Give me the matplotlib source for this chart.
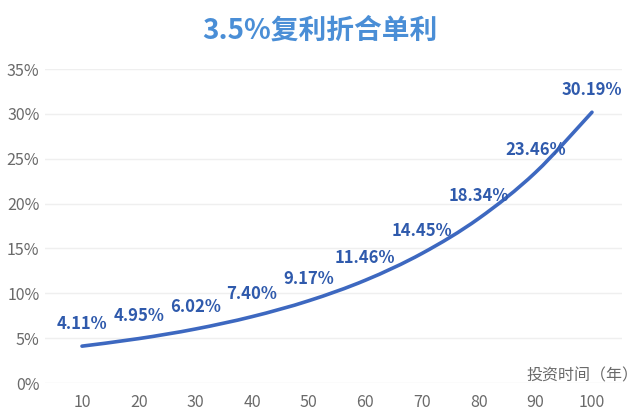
import matplotlib.pyplot as plt
from matplotlib.path import Path
from matplotlib.patches import PathPatch

plt.rcParams['font.family'] = ['Noto Sans CJK SC', 'DejaVu Sans']

# данные
years = [10, 20, 30, 40, 50, 60, 70, 80, 90, 100]
rates = [4.11, 4.95, 6.02, 7.40, 9.17, 11.46, 14.45, 18.34, 23.46, 30.19]
yticks = [0, 5, 10, 15, 20, 25, 30, 35]

line_color = '#3d68c0'
label_color = '#2f5aac'
title_color = '#4a8ed6'
gray = '#6a6a6a'

fig = plt.figure(figsize=(6.4, 4.18), dpi=100)
ax = fig.add_axes([0.0703, 0.0837, 0.9016, 0.751])

# сглаженная линия через точки (Catmull-Rom -> кубические Безье)
pts = list(zip(years, rates))
verts = [pts[0]]
codes = [Path.MOVETO]
for i in range(len(pts) - 1):
    p0 = pts[i - 1] if i > 0 else pts[i]
    p1 = pts[i]
    p2 = pts[i + 1]
    p3 = pts[i + 2] if i + 2 < len(pts) else pts[i + 1]
    c1 = (p1[0] + (p2[0] - p0[0]) / 6, p1[1] + (p2[1] - p0[1]) / 6)
    c2 = (p2[0] - (p3[0] - p1[0]) / 6, p2[1] - (p3[1] - p1[1]) / 6)
    verts += [c1, c2, p2]
    codes += [Path.CURVE4] * 3
ax.add_patch(PathPatch(Path(verts, codes), facecolor='none', edgecolor=line_color,
                       lw=2.6, capstyle='round', joinstyle='round'))

for x, y in zip(years, rates):
    ax.annotate(f'{y:.2f}%', (x, y), xytext=(0, 16), textcoords='offset points',
                ha='center', va='center', fontsize=12, fontweight='bold', color=label_color)

ax.set_xlim(3.47, 105.3)
ax.set_ylim(0, 35)
ax.set_xticks(years)
ax.set_yticks(yticks)
ax.set_yticklabels([f'{t}%' for t in yticks])
ax.tick_params(length=0, labelsize=11.5, labelcolor=gray)
ax.tick_params(axis='x', pad=8)
ax.tick_params(axis='y', pad=4)
ax.grid(axis='y', color='#efefef', lw=1)
ax.set_axisbelow(True)
for s in ax.spines.values():
    s.set_visible(False)

fig.text(0.5, 0.928, '3.5%复利折合单利', ha='center', va='center',
         fontsize=20, fontweight='bold', color=title_color)
fig.text(0.997, 0.1, '投资时间（年）', ha='right', va='center', fontsize=11.5, color=gray)

fig.savefig('out.png', dpi=100)
